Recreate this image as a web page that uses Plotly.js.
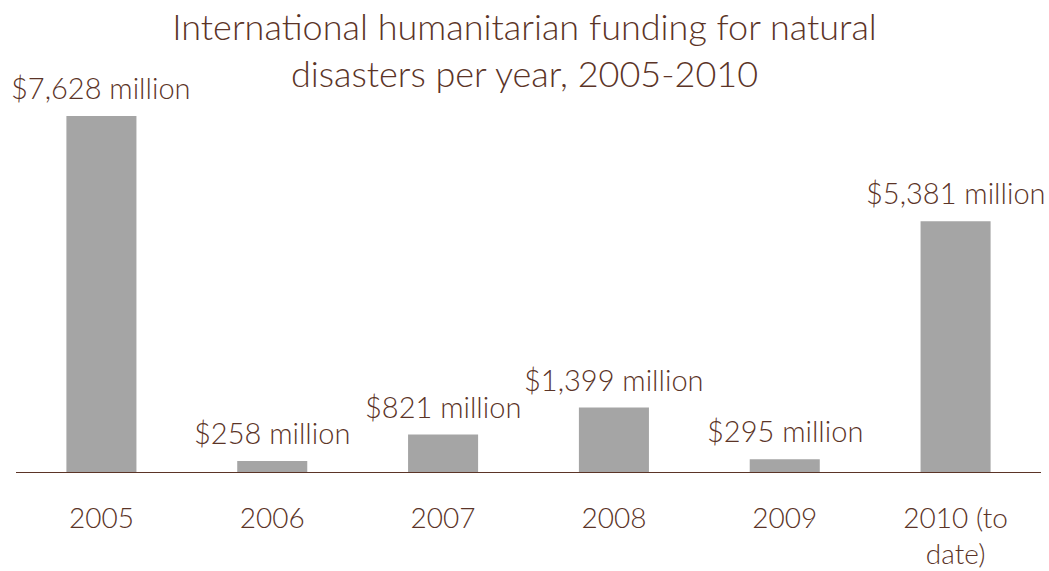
<!DOCTYPE html>
<html><head><meta charset="utf-8">
<script src="https://cdn.plot.ly/plotly-3.0.1.min.js"></script>
<style>html,body{margin:0;padding:0;background:#fff}#chart{width:1049px;height:571px}</style>
</head><body><div id="chart"></div>
<script>
const categories = ["2005", "2006", "2007", "2008", "2009", "2010 (to<br>date)"];
const values = [7628, 258, 821, 1399, 295, 5381];
const labels = ["$7,628 million", "$258 million", "$821 million", "$1,399 million", "$295 million", "$5,381 million"];

const brown = "#5b3427";
const font = "Lato, 'Open Sans', sans-serif";
const idx = categories.map((c, i) => i);

const trace = {
  type: "bar", x: idx, y: values,
  marker: {color: "#a5a5a5"}, hoverinfo: "none"
};
const annotations = idx.map(i => ({
  x: i, y: values[i], text: labels[i], showarrow: false,
  xanchor: "center", yanchor: "bottom", yshift: 9,
  font: {family: font, size: 29, color: brown, weight: 300}
}));
const layout = {
  width: 1049, height: 571,
  margin: {l: 16, r: 8, t: 60, b: 98},
  paper_bgcolor: "#fff", plot_bgcolor: "#fff",
  bargap: 0.59, showlegend: false,
  title: {text: "International humanitarian funding for natural<br>disasters per year, 2005-2010",
    x: 0.5, xanchor: "center", y: 0.93, yanchor: "middle",
    font: {family: font, size: 36, color: brown, weight: 300}},
  xaxis: {range: [-0.5, 5.5], tickvals: idx, ticktext: categories, showgrid: false, zeroline: false, showline: false,
    ticks: "", ticklabelstandoff: 26, tickfont: {family: font, size: 28, color: brown, weight: 300}},
  yaxis: {range: [0, 8826], visible: false, showgrid: false, zeroline: false},
  shapes: [{type: "line", xref: "paper", yref: "y", x0: 0, x1: 1, y0: 0, y1: 0,
    line: {color: brown, width: 2}}],
  annotations: annotations
};
Plotly.newPlot("chart", [trace], layout, {staticPlot: true});
</script></body></html>
